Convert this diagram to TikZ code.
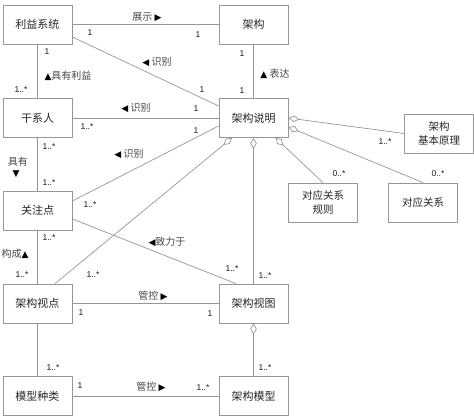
\documentclass[tikz,border=0pt]{standalone}
\usepackage{fontspec}
\setmainfont{Liberation Sans}
\newfontfamily\cjk{Noto Sans CJK SC}
\newfontfamily\symf{DejaVu Sans}
\usetikzlibrary{arrows.meta}
\definecolor{linegray}{RGB}{150,150,150}
\definecolor{boxgray}{RGB}{150,150,150}
\definecolor{labgray}{RGB}{70,70,70}
\newcommand{\mytri}[1]{{\symf\fontsize{9}{9}\selectfont\color{black}#1}}
\begin{document}
\begin{tikzpicture}[x=1pt,y=-1pt,
  box/.style={draw=boxgray, line width=0.8pt, fill=white, minimum width=69pt, minimum height=39pt, inner sep=0pt, align=center, text=black!85, font=\cjk\fontsize{11}{13}\selectfont},
  conn/.style={draw=linegray, line width=0.7pt},
  agg/.style={conn, {Diamond[open, length=11pt, width=6.5pt, line width=0.7pt]}-},
  mult/.style={inner sep=0pt, text=black!90, font=\fontsize{8.5}{9}\selectfont},
  lab/.style={inner sep=0pt, text=labgray, font=\cjk\fontsize{10}{11}\selectfont}]
\useasboundingbox (0,0) rectangle (474,419);
% boxes
\node[box] (ls) at (37.5,24.5) {利益系统};
\node[box] (jg) at (253.5,24.5) {架构};
\node[box] (gxr) at (37.5,118) {干系人};
\node[box] (sm) at (253.5,118) {架构说明};
\node[box] (gzd) at (37.5,210.5) {关注点};
\node[box] (sd) at (37.5,303.5) {架构视点};
\node[box] (st) at (253.5,303.5) {架构视图};
\node[box] (mz) at (37.5,396) {模型种类};
\node[box] (mx) at (253.5,396) {架构模型};
\node[box, font=\cjk\fontsize{10.5}{14}\selectfont] (yl) at (439,133.5) {架构\\基本原理};
\node[box, font=\cjk\fontsize{10.5}{14}\selectfont] (gz) at (323,202.5) {对应关系\\规则};
\node[box, font=\cjk\fontsize{10.5}{14}\selectfont] (gx) at (423,202.5) {对应关系};
% connectors
\draw[conn] (ls) -- (jg);
\draw[conn] ([yshift=-12.5pt]ls.east) -- ([yshift=12pt]sm.west);
\draw[conn] (ls) -- (gxr);
\draw[conn] (jg) -- (sm);
\draw[conn] (gxr) -- (sm);
\draw[conn] ([yshift=9.5pt]gzd.east) -- ([yshift=-8pt]sm.west);
\draw[conn] (gxr) -- (gzd);
\draw[conn] (gzd) -- (sd);
\draw[conn] ([yshift=-8.5pt]gzd.east) -- ([xshift=-17.5pt]st.north);
\draw[agg] ([xshift=-21.5pt]sm.south) -- ([xshift=17.5pt]sd.north);
\draw[agg] (sm.south) -- (st.north);
\draw[agg] ([xshift=22pt]sm.south) -- (gz.north);
\draw[agg] ([yshift=-9pt]sm.east) -- (gx.north);
\draw[agg] (sm.east) -- (yl.west);
\draw[conn] (sd) -- (st);
\draw[conn] (sd) -- (mz);
\draw[agg] (st.south) -- (mx.north);
\draw[conn] (mz) -- (mx);
% labels
\node[lab] (t1) at (147,17) {展示 \mytri{▶}};
\node[lab] (t2) at (157,62) {\mytri{◀} 识别};
\node[lab] (t3) at (68,76) {\mytri{▲}具有利益};
\node[lab] (t4) at (136,108) {\mytri{◀} 识别};
\node[lab] (t5) at (275,74) {\mytri{▲} 表达};
\node[lab] (t6) at (18,162) {具有};
\node[lab] (t7) at (16,174) {\mytri{▼}};
\node[lab] (t8) at (129,154) {\mytri{◀} 识别};
\node[lab] (t9) at (167,242) {\mytri{◀}致力于};
\node[lab] (t10) at (15,254) {构成\mytri{▲}};
\node[lab] (t11) at (153,296) {管控 \mytri{▶}};
\node[lab] (t12) at (151,387) {管控 \mytri{▶}};
% multiplicities
\node[mult] (m1) at (90,33) {1};
\node[mult] (m2) at (198,35) {1};
\node[mult] (m3) at (202,90) {1};
\node[mult] (m4) at (47,52) {1};
\node[mult] (m5) at (21,90) {1..*};
\node[mult] (m6) at (196,109) {1};
\node[mult] (m7) at (87,127) {1..*};
\node[mult] (m8) at (196,131) {1};
\node[mult] (m9) at (242,54) {1};
\node[mult] (m10) at (242,91) {1};
\node[mult] (m11) at (49,147) {1..*};
\node[mult] (m12) at (49,183) {1..*};
\node[mult] (m13) at (90,205) {1..*};
\node[mult] (m14) at (49,238) {1..*};
\node[mult] (m15) at (22,275) {1..*};
\node[mult] (m16) at (93,275) {1..*};
\node[mult] (m17) at (232,269) {1..*};
\node[mult] (m18) at (265,276) {1..*};
\node[mult] (m19) at (385,142) {1..*};
\node[mult] (m20) at (339,174) {0..*};
\node[mult] (m21) at (438,174) {0..*};
\node[mult] (m22) at (81,313) {1};
\node[mult] (m23) at (210,314) {1};
\node[mult] (m24) at (53,368) {1..*};
\node[mult] (m25) at (80,386) {1};
\node[mult] (m26) at (203,388) {1..*};
\node[mult] (m27) at (265,368) {1..*};
\end{tikzpicture}
\end{document}
